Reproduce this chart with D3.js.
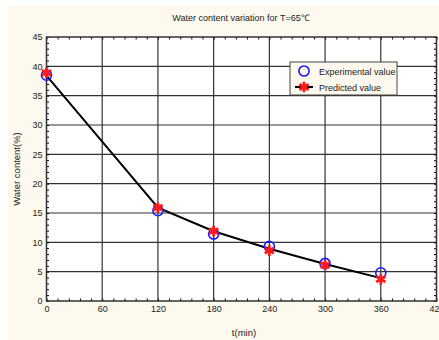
<!DOCTYPE html>
<html>
<head>
<meta charset="utf-8">
<script src="https://d3js.org/d3.v7.min.js"></script>
<style>
  body { margin: 0; background: #fff; }
  text { font-family: "Liberation Sans", Arial, sans-serif; fill: #222; }
</style>
</head>
<body>
<svg width="439" height="340"></svg>
<script>
// chart values
var times = [0, 120, 180, 240, 300, 360];
var experimental = [38.5, 15.4, 11.4, 9.3, 6.4, 4.8];
var predicted = [38.9, 15.9, 11.9, 8.6, 6.1, 3.7];
var curveValues = [38.4, 15.9, 11.9, 8.9, 6.3, 3.9];
var xTicks = [0, 60, 120, 180, 240, 300, 360, 420];
var yTicks = [0, 5, 10, 15, 20, 25, 30, 35, 40, 45];

var svg = d3.select('svg');
var svgWidth = +svg.attr('width');
var svgHeight = +svg.attr('height');

var padding = {t: 37, r: 2.5, b: 39, l: 46.5};
var chartWidth = svgWidth - padding.l - padding.r;
var chartHeight = svgHeight - padding.t - padding.b;

// cream page background
svg.append('rect')
    .attr('x', 8).attr('y', 6)
    .attr('width', svgWidth - 8).attr('height', svgHeight - 6)
    .attr('fill', '#fdf9ee');

var chartG = svg.append('g')
    .attr('transform', 'translate(' + [padding.l, padding.t] + ')');

var xScale = d3.scaleLinear().domain([0, 420]).range([0, chartWidth]);
var yScale = d3.scaleLinear().domain([0, 45]).range([chartHeight, 0]);

chartG.append('rect')
    .attr('width', chartWidth).attr('height', chartHeight)
    .attr('fill', '#fff');

// grid lines
chartG.selectAll('.vgrid')
    .data(xTicks.slice(1, -1))
    .enter().append('line')
    .attr('x1', d => xScale(d)).attr('x2', d => xScale(d))
    .attr('y1', 0).attr('y2', chartHeight)
    .attr('stroke', '#333').attr('stroke-width', 1.2);

chartG.selectAll('.hgrid')
    .data(yTicks.slice(1, -1))
    .enter().append('line')
    .attr('y1', d => yScale(d)).attr('y2', d => yScale(d))
    .attr('x1', 0).attr('x2', chartWidth)
    .attr('stroke', '#333').attr('stroke-width', 1.2);

// minor ticks pointing inward on all four sides
var xMinor = d3.range(0, 421, 12);
var yMinor = d3.range(0, 46, 1);

chartG.append('g')
    .attr('transform', 'translate(0,' + chartHeight + ')')
    .call(d3.axisTop(xScale).tickValues(xMinor).tickSize(2.5).tickFormat(''))
    .call(g => g.select('.domain').remove());
chartG.append('g')
    .call(d3.axisBottom(xScale).tickValues(xMinor).tickSize(2.5).tickFormat(''))
    .call(g => g.select('.domain').remove());
chartG.append('g')
    .call(d3.axisRight(yScale).tickValues(yMinor).tickSize(2.5).tickFormat(''))
    .call(g => g.select('.domain').remove());
chartG.append('g')
    .attr('transform', 'translate(' + chartWidth + ',0)')
    .call(d3.axisLeft(yScale).tickValues(yMinor).tickSize(2.5).tickFormat(''))
    .call(g => g.select('.domain').remove());

// labelled axes
var xAxis = chartG.append('g')
    .attr('transform', 'translate(0,' + chartHeight + ')')
    .call(d3.axisBottom(xScale).tickValues(xTicks).tickSize(0).tickPadding(5));
xAxis.select('.domain').remove();
xAxis.selectAll('text').style('font-size', '9px');

var yAxis = chartG.append('g')
    .call(d3.axisLeft(yScale).tickValues(yTicks).tickSize(0).tickPadding(4));
yAxis.select('.domain').remove();
yAxis.selectAll('text').style('font-size', '9px');

// plot frame
chartG.append('rect')
    .attr('width', chartWidth).attr('height', chartHeight)
    .attr('fill', 'none').attr('stroke', '#333').attr('stroke-width', 1.5);

// model line
var line = d3.line()
    .x((d, i) => xScale(times[i]))
    .y(d => yScale(d));

chartG.append('path')
    .datum(curveValues)
    .attr('d', line)
    .attr('fill', 'none')
    .attr('stroke', '#000')
    .attr('stroke-width', 2);

var circleSym = d3.symbol().type(d3.symbolCircle).size(80);
var starSym = d3.symbol().type(d3.symbolAsterisk).size(80);

chartG.selectAll('.exp')
    .data(experimental)
    .enter().append('path')
    .attr('class', 'exp')
    .attr('transform', (d, i) => 'translate(' + [xScale(times[i]), yScale(d)] + ')')
    .attr('d', circleSym)
    .attr('fill', 'none')
    .attr('stroke', '#1a1aff')
    .attr('stroke-width', 1.6);

chartG.selectAll('.pred')
    .data(predicted)
    .enter().append('path')
    .attr('class', 'pred')
    .attr('transform', (d, i) => 'translate(' + [xScale(times[i]), yScale(d)] + ')')
    .attr('d', starSym)
    .attr('fill', 'none')
    .attr('stroke', '#ff1a1a')
    .attr('stroke-width', 2.8);

// legend
var legend = svg.append('g').attr('transform', 'translate(290,62)');
legend.append('rect')
    .attr('width', 107).attr('height', 33)
    .attr('fill', '#fdf9ee')
    .attr('stroke', '#444').attr('stroke-width', 1);
legend.append('path')
    .attr('transform', 'translate(14,9)')
    .attr('d', circleSym)
    .attr('fill', 'none').attr('stroke', '#1a1aff').attr('stroke-width', 1.6);
legend.append('line')
    .attr('x1', 5).attr('x2', 23).attr('y1', 25).attr('y2', 25)
    .attr('stroke', '#000').attr('stroke-width', 2);
legend.append('path')
    .attr('transform', 'translate(14,25)')
    .attr('d', starSym)
    .attr('fill', 'none').attr('stroke', '#ff1a1a').attr('stroke-width', 2.8);
legend.append('text')
    .attr('x', 29).attr('y', 12.5)
    .style('font-size', '9px')
    .text('Experimental value');
legend.append('text')
    .attr('x', 29).attr('y', 28.5)
    .style('font-size', '9px')
    .text('Predicted value');

// title and axis titles
svg.append('text')
    .attr('x', 241).attr('y', 21)
    .attr('text-anchor', 'middle')
    .style('font-size', '9px')
    .text('Water content variation for T=65℃');

svg.append('text')
    .attr('x', 244).attr('y', 336)
    .attr('text-anchor', 'middle')
    .style('font-size', '9.5px')
    .text('t(min)');

svg.append('text')
    .attr('transform', 'translate(20,' + (padding.t + chartHeight / 2) + ') rotate(-90)')
    .attr('text-anchor', 'middle')
    .style('font-size', '9.5px')
    .text('Water content(%)');
</script>
</body>
</html>
